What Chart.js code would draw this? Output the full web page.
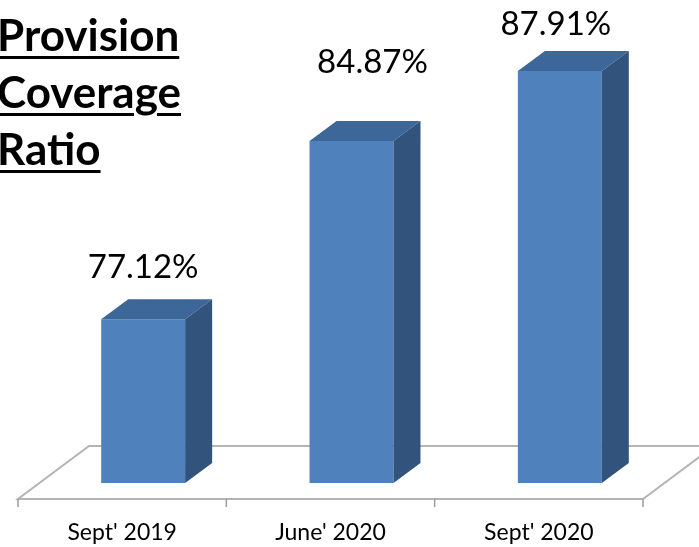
<!DOCTYPE html>
<html>
<head>
<meta charset="utf-8">
<script src="https://cdn.jsdelivr.net/npm/chart.js@4.4.1/dist/chart.umd.min.js"></script>
<style>
  html, body { margin: 0; padding: 0; background: #fff; }
  #wrap { position: relative; width: 699px; height: 547px; overflow: hidden; }
  #title {
    position: absolute; left: -3px; top: 6px;
    font: bold 44px Lato, sans-serif; line-height: 57px; color: #000;
    text-decoration: underline; text-decoration-thickness: 3px; text-underline-offset: 5px;
  }
</style>
</head>
<body>
<div id="wrap">
  <canvas id="chart" width="699" height="547"></canvas>
  <div id="title">Provision<br>Coverage<br>Ratio</div>
</div>
<script>
// Provision coverage ratio, Excel-style 3D column look

const periods  = ["Sept' 2019", "June' 2020", "Sept' 2020"];
const coverage = [77.12, 84.87, 87.91];
const valueLabels = ['77.12%', '84.87%', '87.91%'];
const axisMin = 70;
const axisMax = 90;

// where each value label sits relative to its bar top (px), as in the slide
const labelNudge = [[0, 41], [21, 68], [-4, 36]];

const FRONT = '#4f81bd';
const TOP   = '#3d6699';
const SIDE  = '#32537c';
const FLOOR = '#b4b4b4';

const depth      = { dx: 27, dy: -20 };   // bar depth
const floorFront = { dx: -21, dy: 16 };
const floorBack  = { dx: 50, dy: -37 };

const cube3d = {
  id: 'cube3d',
  beforeDatasetsDraw(chart) {
    const { ctx } = chart;
    const x = chart.scales.x, y = chart.scales.y;
    const base = y.getPixelForValue(axisMin);
    const l = x.getPixelForValue(-0.5), r = x.getPixelForValue(periods.length - 0.5);
    const fy = base + floorFront.dy, by = base + floorBack.dy;

    ctx.save();
    ctx.lineWidth = 2;
    ctx.strokeStyle = FLOOR;
    ctx.beginPath();
    ctx.moveTo(l + floorFront.dx, fy);
    ctx.lineTo(r + floorFront.dx, fy);
    ctx.lineTo(r + floorBack.dx, by);
    ctx.lineTo(l + floorBack.dx, by);
    ctx.closePath();
    ctx.stroke();
    // tick marks on the front edge
    ctx.lineWidth = 1.5;
    ctx.strokeStyle = '#9a9a9a';
    for (let i = 0; i <= periods.length; i++) {
      const tx = x.getPixelForValue(i - 0.5) + floorFront.dx;
      ctx.beginPath();
      ctx.moveTo(tx, fy);
      ctx.lineTo(tx, fy + 8);
      ctx.stroke();
    }
    ctx.restore();
  },
  afterDatasetsDraw(chart) {
    const { ctx } = chart;
    const meta = chart.getDatasetMeta(0);
    const base = chart.scales.y.getPixelForValue(axisMin);
    ctx.save();
    meta.data.forEach((bar, i) => {
      const { x, y, width } = bar.getProps(['x', 'y', 'width'], true);
      const x1 = x - width / 2, x2 = x + width / 2;

      ctx.fillStyle = TOP;
      ctx.beginPath();
      ctx.moveTo(x1, y);
      ctx.lineTo(x1 + depth.dx, y + depth.dy);
      ctx.lineTo(x2 + depth.dx, y + depth.dy);
      ctx.lineTo(x2, y);
      ctx.closePath();
      ctx.fill();

      ctx.fillStyle = SIDE;
      ctx.beginPath();
      ctx.moveTo(x2, y);
      ctx.lineTo(x2 + depth.dx, y + depth.dy);
      ctx.lineTo(x2 + depth.dx, base + depth.dy);
      ctx.lineTo(x2, base);
      ctx.closePath();
      ctx.fill();

      ctx.fillStyle = '#000';
      ctx.font = '33px Lato, sans-serif';
      ctx.textAlign = 'center';
      ctx.textBaseline = 'alphabetic';
      ctx.fillText(valueLabels[i], x + labelNudge[i][0], y - labelNudge[i][1]);
    });
    ctx.restore();
  }
};

new Chart(document.getElementById('chart'), {
  type: 'bar',
  data: {
    labels: periods,
    datasets: [{
      data: coverage,
      backgroundColor: FRONT,
      borderWidth: 0,
      categoryPercentage: 1,
      barPercentage: 0.403
    }]
  },
  options: {
    responsive: false,
    animation: false,
    layout: { padding: { left: 39, right: 35, top: 23, bottom: 0 } },
    plugins: { legend: { display: false }, tooltip: { enabled: false } },
    scales: {
      y: { display: false, min: axisMin, max: axisMax },
      x: {
        grid: { display: false, drawTicks: false },
        border: { display: false },
        ticks: { color: '#000', font: { family: 'Lato', size: 23 }, padding: 36, labelOffset: -21 },
        afterFit(scale) { scale.height = 64; }
      }
    }
  },
  plugins: [cube3d]
});
</script>
</body>
</html>
